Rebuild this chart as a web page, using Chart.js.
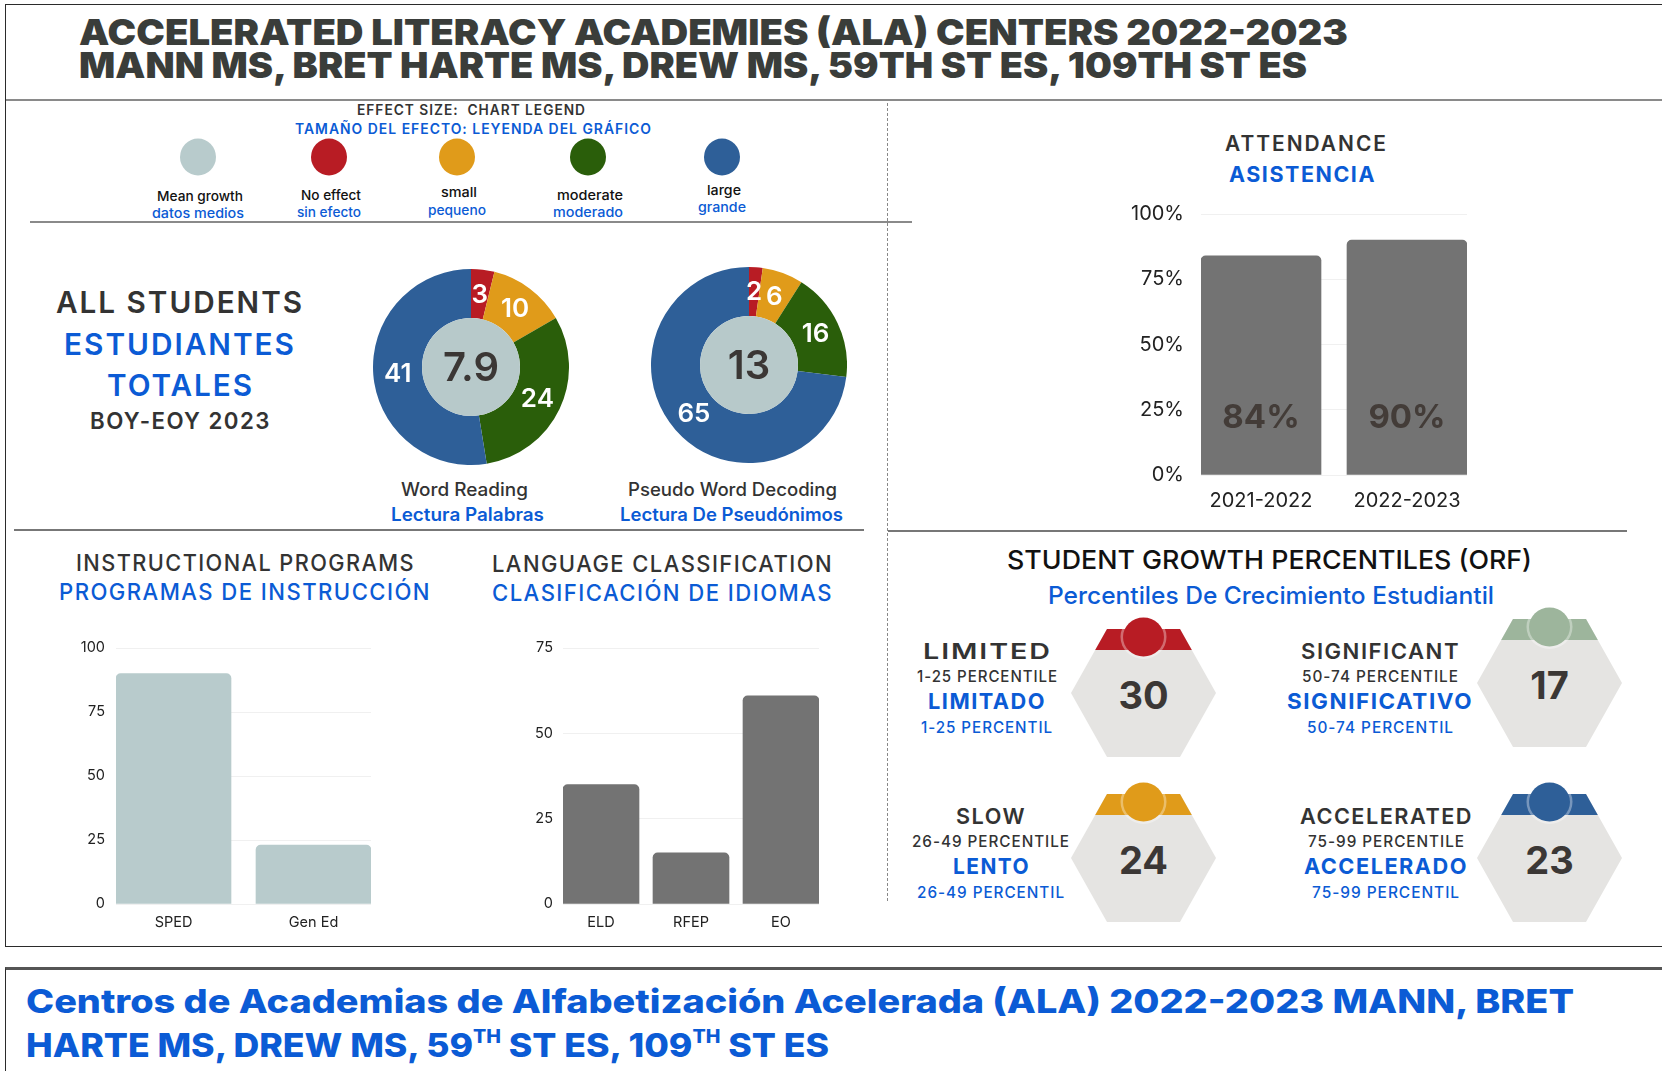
<!DOCTYPE html>
<html>
<head>
<meta charset="utf-8">
<script src="https://cdn.jsdelivr.net/npm/chart.js@4.4.0/dist/chart.umd.min.js"></script>
<style>
  html, body { margin: 0; padding: 0; background: #fff; }
  body { width: 1662px; height: 1071px; position: relative; overflow: hidden; font-family: Inter, "Open Sans", sans-serif; }
  .t { position: absolute; white-space: nowrap; line-height: 1; transform-origin: 0 0; }
  .ln { position: absolute; }
  canvas { position: absolute; }
  sup { font-size: 0.55em; vertical-align: 0; position: relative; top: -0.75em; }
</style>
</head>
<body>
<svg id="deco" width="1662" height="1071" style="position:absolute;left:0;top:0"></svg>
<script>
// ---- datos ----
const effectNames = ['Mean growth', 'No effect', 'small', 'moderate', 'large'];
const effectNamesEs = ['datos medios', 'sin efecto', 'pequeno', 'moderado', 'grande'];
const effectColors = ['#b8cbcc', '#b81c24', '#e09b1a', '#2a5e0a', '#2e5f98'];

const sliceColors = ['#b81c24', '#e09b1a', '#2a5e0a', '#2e5f98'];
const wordReading = [3, 10, 24, 41];
const wordReadingMean = '7.9';
const pseudoWord = [2, 6, 16, 65];
const pseudoWordMean = '13';

const attendanceYears = ['2021-2022', '2022-2023'];
const attendance = [84, 90];

const programs = ['SPED', 'Gen Ed'];
const programCounts = [90, 23];

const langClasses = ['ELD', 'RFEP', 'EO'];
const langCounts = [35, 15, 61];

const sgpNames = ['LIMITED', 'SIGNIFICANT', 'SLOW', 'ACCELERATED'];
const sgpNamesEs = ['LIMITADO', 'SIGNIFICATIVO', 'LENTO', 'ACCELERADO'];
const sgpRanges = ['1-25', '50-74', '26-49', '75-99'];
const sgpValues = [30, 17, 24, 23];
const sgpColors = ['#b81c24', '#9db59c', '#e09b1a', '#2e5f98'];

const BLUE = '#0b5bd5';
const DARK = '#333';

// ---- utilidades ----
function txt(s, cx, cy, o) {
    const el = document.createElement('div');
    el.className = 't';
    el.innerHTML = s;
    el.style.fontSize = o.size + 'px';
    el.style.fontWeight = o.weight || 400;
    el.style.color = o.color || DARK;
    if (o.ls) el.style.letterSpacing = o.ls + 'px';
    document.body.appendChild(el);
    const r = el.getBoundingClientRect();
    const k = o.w ? o.w / r.width : 1;
    const left = o.left !== undefined ? o.left : cx - r.width * k / 2;
    el.style.left = left + 'px';
    el.style.top = (cy - r.height / 2) + 'px';
    el.style.transform = `scaleX(${k})`;
    return el;
}

function line(x, y, w, h, css) {
    const el = document.createElement('div');
    el.className = 'ln';
    el.style.left = x + 'px';
    el.style.top = y + 'px';
    el.style.width = w + 'px';
    el.style.height = h + 'px';
    Object.assign(el.style, css);
    document.body.appendChild(el);
}

// ---- marcos y líneas ----
line(5, 4, 1700, 941, { border: '1.5px solid #2b2b2b' });
line(5, 967, 1700, 200, { borderTop: '3px solid #555', borderLeft: '1.5px solid #2b2b2b' });
line(6, 99, 1660, 2, { background: '#8a8a8a' });
line(30, 221, 882, 1.5, { background: '#8a8a8a' });
line(14, 529, 850, 1.5, { background: '#777' });
line(888, 530, 739, 1.5, { background: '#777' });
line(887, 103, 0, 798, { borderLeft: '1px dashed #888' });

// ---- encabezado ----
txt('ACCELERATED LITERACY ACADEMIES (ALA) CENTERS 2022-2023', 0, 31.5, { left: 79, w: 1269, size: 36, weight: 900, color: '#3a3d3a' });
txt('MANN MS, BRET HARTE MS, DREW MS, 59TH ST ES, 109TH ST ES', 0, 65, { left: 79, w: 1228, size: 36, weight: 900, color: '#3a3d3a' });

// ---- leyenda del tamaño del efecto ----
txt('EFFECT SIZE:&nbsp; CHART LEGEND', 471, 110, { w: 229, size: 14, weight: 600, ls: 1 });
txt('TAMAÑO DEL EFECTO: LEYENDA DEL GRÁFICO', 473, 129, { w: 357, size: 14, weight: 600, ls: 1, color: BLUE });

const svg = document.getElementById('deco');
const NS = 'http://www.w3.org/2000/svg';
function svgEl(tag, attrs) {
    const e = document.createElementNS(NS, tag);
    for (const k in attrs) e.setAttribute(k, attrs[k]);
    svg.appendChild(e);
    return e;
}

const legendX = [198, 329, 457, 588, 722];
const legendLabelY = [[197, 214], [196, 213], [193, 211], [196, 213], [191, 208]];
const legendLabelW = [[86, 92], [60, 64], [36, 58], [66, 70], [34, 48]];
effectNames.forEach((n, i) => {
    svgEl('ellipse', { cx: legendX[i], cy: 157, rx: 18, ry: 18.5, fill: effectColors[i] });
    txt(n, legendX[i] + 2, legendLabelY[i][0], { w: legendLabelW[i][0], size: 13.5, weight: 500, color: '#111' });
    txt(effectNamesEs[i], legendX[i], legendLabelY[i][1], { w: legendLabelW[i][1], size: 13.5, weight: 500, color: BLUE });
});

// ---- todos los estudiantes ----
txt('ALL STUDENTS', 180, 302, { w: 248, size: 30, weight: 600, ls: 2, color: '#333' });
txt('ESTUDIANTES', 180, 344, { w: 232, size: 30, weight: 600, ls: 2, color: BLUE });
txt('TOTALES', 180, 385, { w: 147, size: 30, weight: 600, ls: 2, color: BLUE });
txt('BOY-EOY 2023', 180, 421.5, { w: 181, size: 23, weight: 600, ls: 1.5, color: '#333' });

// ---- gráficas de dona ----
const donutLabels = {
    id: 'donutLabels',
    afterDatasetsDraw(chart) {
        const ctx = chart.ctx;
        const arcs = chart.getDatasetMeta(0).data;
        const a0 = arcs[0];
        ctx.save();
        ctx.beginPath();
        ctx.arc(a0.x, a0.y, a0.innerRadius, 0, Math.PI * 2);
        ctx.fillStyle = '#b7c9ca';
        ctx.fill();
        ctx.textAlign = 'center';
        ctx.textBaseline = 'middle';
        ctx.fillStyle = '#fff';
        ctx.font = '600 26px Inter';
        arcs.forEach((arc, i) => {
            const p = arc.getCenterPoint();
            ctx.fillText(chart.data.datasets[0].data[i], p.x, p.y + 1);
        });
        ctx.fillStyle = '#3b3735';
        ctx.font = '600 40px Inter';
        ctx.fillText(chart.options.plugins.donutLabels.center, a0.x, a0.y + 2);
        ctx.restore();
    }
};

function renderDonut(values, mean, cx, cy) {
    const canvas = document.createElement('canvas');
    canvas.style.left = (cx - 98) + 'px';
    canvas.style.top = (cy - 98) + 'px';
    canvas.style.width = '196px';
    canvas.style.height = '196px';
    canvas.width = 196;
    canvas.height = 196;
    document.body.appendChild(canvas);
    new Chart(canvas, {
        type: 'doughnut',
        data: {
            labels: ['No effect', 'small', 'moderate', 'large'],
            datasets: [{ data: values, backgroundColor: sliceColors, borderWidth: 0 }],
        },
        options: {
            responsive: false,
            animation: false,
            cutout: '50%',
            plugins: { legend: { display: false }, tooltip: { enabled: false }, donutLabels: { center: mean } },
        },
        plugins: [donutLabels],
    });
}

renderDonut(wordReading, wordReadingMean, 471, 367);
renderDonut(pseudoWord, pseudoWordMean, 749, 365);

txt('Word Reading', 464, 490, { w: 127, size: 18, weight: 500, color: '#333' });
txt('Lectura Palabras', 467, 515, { w: 153, size: 18, weight: 600, color: BLUE });
txt('Pseudo Word Decoding', 732, 490, { w: 209, size: 18, weight: 500, color: '#333' });
txt('Lectura De Pseudónimos', 731.5, 515, { w: 223, size: 18, weight: 600, color: BLUE });

// ---- gráficas de barras ----
const barValueLabels = {
    id: 'barValueLabels',
    afterDatasetsDraw(chart) {
        const opts = chart.options.plugins.barValueLabels;
        if (!opts || !opts.show) return;
        const ctx = chart.ctx;
        ctx.save();
        ctx.textAlign = 'center';
        ctx.textBaseline = 'middle';
        ctx.fillStyle = '#433c38';
        ctx.font = '700 33px Inter';
        chart.getDatasetMeta(0).data.forEach((bar, i) => {
            ctx.fillText(chart.data.datasets[0].data[i].y + '%', bar.x, bar.base - 56);
        });
        ctx.restore();
    }
};

// area = zona de trazado {l, t, r, b}; box = lienzo {x, y, w, h}
// eje x lineal para que las barras extremas toquen los bordes de la zona
function renderBars(labels, values, color, area, box, o) {
    const canvas = document.createElement('canvas');
    canvas.style.left = box.x + 'px';
    canvas.style.top = box.y + 'px';
    canvas.style.width = box.w + 'px';
    canvas.style.height = box.h + 'px';
    canvas.width = box.w;
    canvas.height = box.h;
    document.body.appendChild(canvas);

    const n = labels.length;
    const unit = (area.r - area.l - o.barW) / (n - 1);
    const half = o.barW / 2 / unit;

    new Chart(canvas, {
        type: 'bar',
        data: {
            datasets: [{
                data: values.map((v, i) => ({ x: i, y: v })),
                backgroundColor: color,
                borderRadius: { topLeft: 5, topRight: 5, bottomLeft: 0, bottomRight: 0 },
                borderSkipped: 'bottom',
                barThickness: o.barW,
            }],
        },
        options: {
            responsive: false,
            animation: false,
            layout: { padding: { top: area.t - box.y, right: box.x + box.w - area.r, left: 0, bottom: 0 } },
            plugins: { legend: { display: false }, tooltip: { enabled: false }, barValueLabels: { show: !!o.valueLabels } },
            scales: {
                x: {
                    type: 'linear',
                    offset: false,
                    bounds: 'data',
                    min: -half,
                    max: n - 1 + half,
                    grid: { display: false, offset: false },
                    border: { display: false },
                    afterBuildTicks: (s) => { s.ticks = labels.map((l, i) => ({ value: i })); },
                    ticks: {
                        color: '#222',
                        font: { family: 'Inter', size: o.font },
                        padding: o.xPad,
                        maxRotation: 0,
                        autoSkip: false,
                        callback: (v) => labels[v],
                    },
                    afterFit: (s) => { s.height = box.y + box.h - area.b; },
                },
                y: {
                    min: 0,
                    max: o.max,
                    grid: { color: '#f0f0f0', drawTicks: false },
                    border: { display: false },
                    ticks: {
                        stepSize: 25,
                        color: '#222',
                        font: { family: 'Inter', size: o.font },
                        padding: o.yPad,
                        callback: (v) => v + (o.suffix || ''),
                    },
                    afterFit: (s) => { s.width = area.l - box.x; },
                },
            },
        },
        plugins: [barValueLabels],
    });
}

// asistencia
txt('ATTENDANCE', 1306, 143, { w: 163, size: 21, weight: 600, ls: 2, color: '#333' });
txt('ASISTENCIA', 1302.5, 174, { w: 147, size: 21, weight: 700, ls: 1.5, color: BLUE });
renderBars(attendanceYears, attendance, '#737373',
    { l: 1201, t: 209, r: 1467, b: 475 }, { x: 1100, y: 185, w: 380, h: 340 },
    { max: 100, font: 20, xPad: 6, yPad: 17, suffix: '%', barW: 120, valueLabels: true });

// programas de instrucción
txt('INSTRUCTIONAL PROGRAMS', 245.5, 563, { w: 339, size: 23, weight: 500, ls: 1.5, color: '#333' });
txt('PROGRAMAS DE INSTRUCCIÓN', 245, 592, { w: 372, size: 23, weight: 500, ls: 1.5, color: BLUE });
renderBars(programs, programCounts, '#b8cbcc',
    { l: 116, t: 648, r: 371, b: 904 }, { x: 40, y: 625, w: 340, h: 310 },
    { max: 100, font: 14.5, xPad: 2, yPad: 11, barW: 115 });

// clasificación de idiomas
txt('LANGUAGE CLASSIFICATION', 662.5, 564, { w: 341, size: 23, weight: 500, ls: 1.5, color: '#333' });
txt('CLASIFICACIÓN DE IDIOMAS', 662.5, 593, { w: 341, size: 23, weight: 500, ls: 1.5, color: BLUE });
renderBars(langClasses, langCounts, '#737373',
    { l: 563, t: 648, r: 819, b: 904 }, { x: 500, y: 625, w: 330, h: 310 },
    { max: 75, font: 14.5, xPad: 2, yPad: 10, barW: 76 });

// ---- percentiles de crecimiento ----
txt('STUDENT GROWTH PERCENTILES (ORF)', 1269.5, 560, { w: 525, size: 26, weight: 500, color: '#111' });
txt('Percentiles De Crecimiento Estudiantil', 1271, 596, { w: 446, size: 24, weight: 500, color: BLUE });

const hexCx = [1143.5, 1549.5, 1143.5, 1549.5];
const hexTop = [629, 619, 794, 794];
const groupCx = [987, 1380, 991, 1386];
const groupY = [651, 651, 816, 816];
const groupW = [
    [129, 141, 118, 132],
    [159, 157, 186, 147],
    [70, 158, 77, 148],
    [173, 157, 164, 148],
];

sgpValues.forEach((v, i) => {
    const cx = hexCx[i], ty = hexTop[i], h = 128;
    const pts = [[cx - 36.5, ty], [cx + 36.5, ty], [cx + 72.5, ty + h / 2], [cx + 36.5, ty + h], [cx - 36.5, ty + h], [cx - 72.5, ty + h / 2]];
    svgEl('polygon', { points: pts.map(p => p.join(',')).join(' '), fill: '#e5e4e2' });
    const bh = 21, bw = 36.5 + 36 * bh / (h / 2);
    svgEl('polygon', { points: [[cx - 36.5, ty], [cx + 36.5, ty], [cx + bw, ty + bh], [cx - bw, ty + bh]].map(p => p.join(',')).join(' '), fill: sgpColors[i] });
    svgEl('ellipse', { cx: cx, cy: ty + 8, rx: 23, ry: 22, fill: 'rgba(255,255,255,0.35)' });
    svgEl('ellipse', { cx: cx, cy: ty + 8, rx: 20.5, ry: 19.5, fill: sgpColors[i] });
    txt(String(v), cx, ty + 66, { size: 38, weight: 700, color: '#3b3735' });

    const gx = groupCx[i], gy = groupY[i], gw = groupW[i];
    txt(sgpNames[i], gx, gy, { w: gw[0], size: 22, weight: 600, ls: 1.5, color: '#333' });
    txt(sgpRanges[i] + ' PERCENTILE', gx, gy + 25, { w: gw[1], size: 16, weight: 500, ls: 1, color: '#333' });
    txt(sgpNamesEs[i], gx, gy + 50, { w: gw[2], size: 22, weight: 700, ls: 1.5, color: BLUE });
    txt(sgpRanges[i] + ' PERCENTIL', gx, gy + 75.5, { w: gw[3], size: 16, weight: 500, ls: 1, color: BLUE });
});

// ---- título en español ----
txt('Centros de Academias de Alfabetización Acelerada (ALA) 2022-2023 MANN, BRET', 0, 1001, { left: 26, w: 1548, size: 33, weight: 800, color: BLUE });
txt('HARTE MS, DREW MS, 59<sup>TH</sup> ST ES, 109<sup>TH</sup> ST ES', 0, 1045, { left: 26, w: 803, size: 33, weight: 800, color: BLUE });
</script>
</body>
</html>
